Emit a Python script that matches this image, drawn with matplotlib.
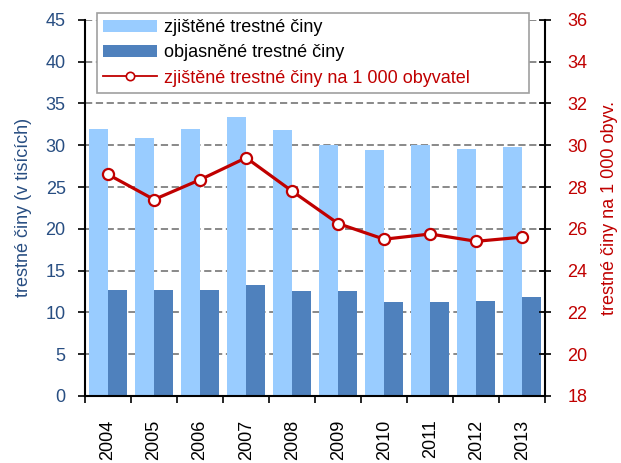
import numpy as np
import matplotlib
matplotlib.use("Agg")
import matplotlib.pyplot as plt
from matplotlib.lines import Line2D

plt.rcParams["font.family"] = ["Liberation Sans", "DejaVu Sans"]

# data
years = ["2004", "2005", "2006", "2007", "2008", "2009", "2010", "2011", "2012", "2013"]
zjistene = [32.0, 30.9, 32.0, 33.4, 31.8, 30.0, 29.4, 30.0, 29.5, 29.8]
objasnene = [12.7, 12.7, 12.7, 13.3, 12.5, 12.5, 11.2, 11.2, 11.4, 11.8]
na_1000 = [28.6, 27.4, 28.35, 29.4, 27.8, 26.25, 25.5, 25.75, 25.4, 25.6]

blue_txt = "#284E82"
red = "#C00000"

fig = plt.figure(figsize=(6.21, 4.63), dpi=100, facecolor="white")
ax = fig.add_axes([0.137, 0.145, 0.741, 0.812])

x = np.arange(len(years))
w = 0.415
b1 = ax.bar(x - w / 2, zjistene, width=w, color="#99CCFF", label="zjištěné trestné činy", zorder=2)
b2 = ax.bar(x + w / 2, objasnene, width=w, color="#4F81BD", label="objasněné trestné činy", zorder=2)

ax.set_xlim(-0.5, len(years) - 0.5)
ax.set_ylim(0, 45)
ax.set_yticks(range(0, 46, 5))
ax.set_xticks(x)
ax.set_xticklabels(years, rotation=90, fontsize=13)
ax.set_xticks(np.arange(-0.5, len(years), 1), minor=True)
ax.tick_params(axis="x", which="major", length=0, pad=17)
ax.tick_params(axis="x", which="minor", length=5, width=1.2, direction="out")
ax.tick_params(axis="y", labelsize=13, labelcolor=blue_txt, length=5, width=1.2, direction="out", pad=9)
ax.yaxis.grid(True, linestyle=(0, (4, 2)), color="#808080", linewidth=1.3, zorder=0)
ax.set_axisbelow(True)
ax.set_ylabel("trestné činy (v tisících)", color=blue_txt, fontsize=13, labelpad=10)
for s in ["top", "right"]:
    ax.spines[s].set_visible(False)
ax.spines["left"].set_linewidth(1.5)
ax.spines["bottom"].set_linewidth(1.5)

ax2 = ax.twinx()
l1, = ax2.plot(x, na_1000, color=red, linewidth=2.3, marker="o", markersize=8,
               markerfacecolor="white", markeredgecolor=red, markeredgewidth=1.6,
               label="zjištěné trestné činy na 1 000 obyvatel", zorder=5)
ax2.set_ylim(18, 36)
ax2.set_yticks(range(18, 37, 2))
ax2.tick_params(axis="y", labelsize=13, labelcolor=red, length=8, width=1.2, direction="inout", pad=12)
ax2.set_ylabel("trestné činy na 1 000 obyv.", color=red, fontsize=13, labelpad=10)
for s in ["top", "left", "bottom"]:
    ax2.spines[s].set_visible(False)
ax2.spines["right"].set_linewidth(1.5)

# smaller line handle for the legend, like the original
l_leg = Line2D([], [], color=red, linewidth=1.3, marker="o", markersize=6,
               markerfacecolor="white", markeredgecolor=red, markeredgewidth=1.2)
leg = ax2.legend([b1, b2, l_leg], [b1.get_label(), b2.get_label(), l1.get_label()],
                 loc="upper left", bbox_to_anchor=(97 / 621, 1 - 93 / 463, 432 / 621, 80 / 463),
                 bbox_transform=fig.transFigure, mode="expand", fontsize=13, frameon=True,
                 fancybox=False, edgecolor="#A0A0A0", framealpha=1,
                 handlelength=3.0, handletextpad=0.35, labelspacing=0.45,
                 borderpad=0.35, borderaxespad=0)
leg.get_frame().set_linewidth(1.2)
leg.get_texts()[2].set_color(red)
leg.set_zorder(10)

fig.savefig("out.png", dpi=100)
